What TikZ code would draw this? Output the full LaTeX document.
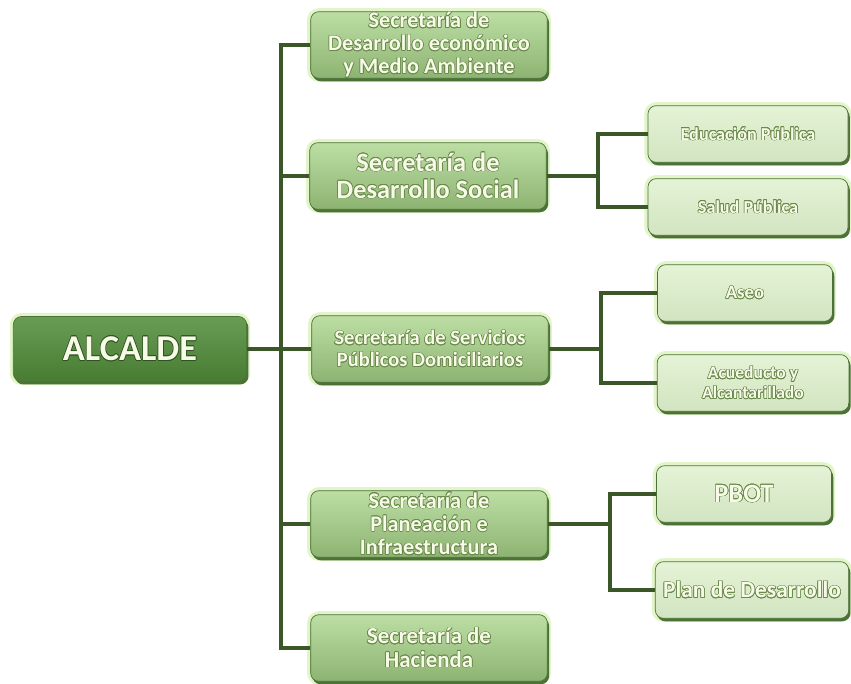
\documentclass[tikz,border=0pt]{standalone}
\usepackage{fontspec}
\setmainfont{Carlito}
\usepackage[copies]{contour}
\contourlength{0.5pt}
\usetikzlibrary{positioning,shadows}
\definecolor{alcGreen}{HTML}{4F8A37}
\definecolor{secGreen}{HTML}{A6D386}
\definecolor{subGreen}{HTML}{DDF0CB}
\definecolor{edgeGreen}{HTML}{4C7238}
\definecolor{lineGreen}{HTML}{3B5727}
\definecolor{glowGreen}{HTML}{E2F5C8}
\definecolor{txtEdge}{HTML}{6A8A4C}
\definecolor{txtFill}{HTML}{F8FAE8}
\newcommand{\olt}[1]{\contour{txtEdge}{#1}}

\begin{document}
\begin{tikzpicture}[x=0.03cm,y=-0.03cm,
    boxbase/.style={rounded corners=7pt, draw=edgeGreen, line width=0.6pt,
      inner sep=0pt, align=center, text=txtFill, font=\bfseries,
      preaction={draw=glowGreen, line width=6pt},
      drop shadow={fill=edgeGreen, shadow xshift=1.5pt, shadow yshift=-2.5pt, opacity=1}},
    alcbox/.style={boxbase, top color=alcGreen!85!white, bottom color=alcGreen!90!black,
      minimum width=7.0cm, minimum height=1.95cm},
    secbox/.style={boxbase, top color=secGreen!75!white, bottom color=secGreen!85!black,
      minimum width=7.1cm, minimum height=2.0cm},
    subbox/.style={boxbase, top color=subGreen!80!white, bottom color=subGreen!95!black,
      minimum height=1.7cm},
    link/.style={draw=lineGreen, line width=3.2pt}]
  \useasboundingbox (0,0) rectangle (851,684);

  % alcalde
  \node[alcbox, font=\bfseries\fontsize{31}{33}\selectfont] (alc) at (130,349) {\contour{alcGreen!60!black}{ALCALDE}};

  % secretarias
  \node[secbox, font=\bfseries\fontsize{19}{19.5}\selectfont] (s1) at (429,45)
    {\olt{Secretaría de}\\\olt{Desarrollo económico}\\\olt{y Medio Ambiente}};
  \node[secbox, font=\bfseries\fontsize{22.5}{23}\selectfont] (s2) at (428,176)
    {\olt{Secretaría de}\\\olt{Desarrollo Social}};
  \node[secbox, font=\bfseries\fontsize{17.5}{18.5}\selectfont] (s3) at (430,349)
    {\olt{Secretaría de Servicios}\\\olt{Públicos Domiciliarios}};
  \node[secbox, font=\bfseries\fontsize{19}{20}\selectfont] (s4) at (429,524)
    {\olt{Secretaría de}\\\olt{Planeación e}\\\olt{Infraestructura}};
  \node[secbox, font=\bfseries\fontsize{19.5}{20}\selectfont] (s5) at (429,648)
    {\olt{Secretaría de}\\\olt{Hacienda}};

  % dependencias
  \node[subbox, minimum width=6.0cm, font=\bfseries\fontsize{15.5}{16}\selectfont] (edu) at (748,134) {\olt{Educación Pública}};
  \node[subbox, minimum width=6.0cm, font=\bfseries\fontsize{15.5}{16}\selectfont] (sal) at (748,207) {\olt{Salud Pública}};
  \node[subbox, minimum width=5.25cm, font=\bfseries\fontsize{16}{17}\selectfont] (aseo) at (745,293) {\olt{Aseo}};
  \node[subbox, minimum width=5.75cm, font=\bfseries\fontsize{15}{17}\selectfont] (acu) at (753,383) {\olt{Acueducto y}\\\olt{Alcantarillado}};
  \node[subbox, minimum width=5.25cm, font=\bfseries\fontsize{22.5}{23}\selectfont] (pbot) at (744,494) {\olt{PBOT}};
  \node[subbox, minimum width=5.8cm, font=\bfseries\fontsize{20}{21}\selectfont] (plan) at (752,590) {\olt{Plan de Desarrollo}};

  % conectores
  \coordinate (tr) at (281,349);
  \coordinate (b2) at (598,176);
  \coordinate (b3) at (601,349);
  \coordinate (b4) at (610,524);
  \draw[link] (alc.east) -- (s3.west);
  \draw[link] (s1.west) -| (tr) |- (s5.west);
  \draw[link] (s2.west) -- (s2.west -| tr);
  \draw[link] (s4.west) -- (s4.west -| tr);
  \draw[link] (s2.east) -- (b2);
  \draw[link] (edu.west) -| (b2) |- (sal.west);
  \draw[link] (s3.east) -- (b3);
  \draw[link] (aseo.west) -| (b3) |- (acu.west);
  \draw[link] (s4.east) -- (b4);
  \draw[link] (pbot.west) -| (b4) |- (plan.west);
\end{tikzpicture}
\end{document}
